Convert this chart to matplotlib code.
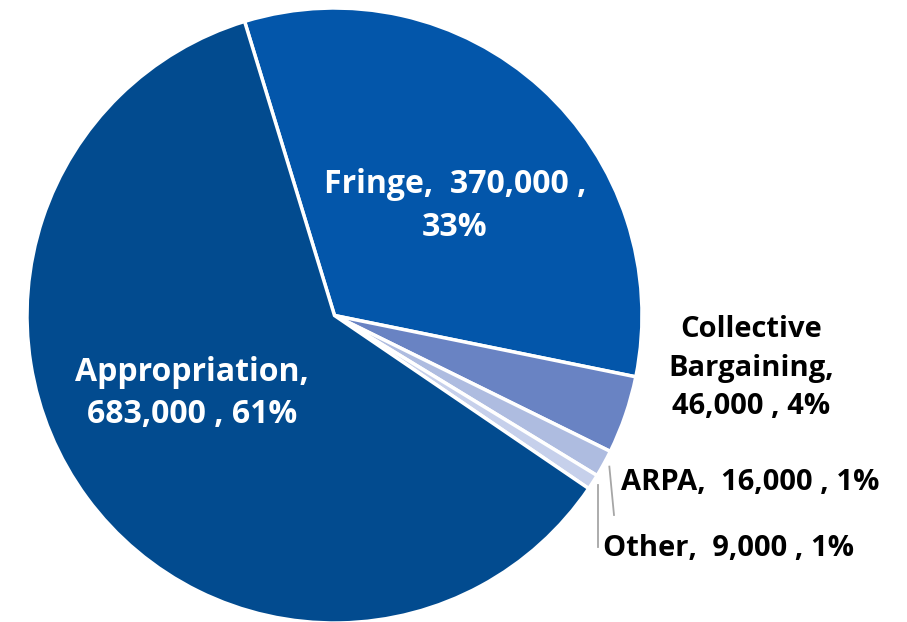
import numpy as np
import matplotlib
matplotlib.use("Agg")
import matplotlib.pyplot as plt

plt.rcParams['font.family'] = ['Open Sans', 'DejaVu Sans']

categories = ['Fringe', 'Collective\nBargaining', 'ARPA', 'Other', 'Appropriation']
values = [370000, 46000, 16000, 9000, 683000]
percents = ['33%', '4%', '1%', '1%', '61%']
colors = ['#0356AA', '#6983C3', '#AEBCE0', '#C6D0EB', '#024B8F']

W, H = 907, 622
R = 307.5          # pie radius in pixels
cx, cy = 334.5, 315.5


def px(x, y):
    # pixel position (from top-left) -> data coords with unit radius
    return (x - cx) / R, (cy - y) / R


fig = plt.figure(figsize=(W / 100, H / 100), dpi=100)
ax = fig.add_axes([0, 0, 1, 1])

wedges, _ = ax.pie(values, colors=colors, startangle=107, counterclock=False,
                   radius=1, wedgeprops=dict(edgecolor='white', linewidth=2.5))

ax.set_xlim(-cx / R, (W - cx) / R)
ax.set_ylim(-(H - cy) / R, cy / R)
ax.axis('off')


def label(i):
    v = f"{values[i]:,}"
    return v, percents[i]


fs_in, fs_out = 23, 21
v, p = label(0)
ax.text(*px(455, 206), f"Fringe,  {v} ,\n{p}", color='white', fontsize=fs_in,
        fontweight='bold', ha='center', va='center', linespacing=1.38)
v, p = label(4)
ax.text(*px(192, 393), f"Appropriation,\n{v} , {p}", color='white', fontsize=fs_in,
        fontweight='bold', ha='center', va='center', linespacing=1.36)
v, p = label(1)
ax.text(*px(751, 368), f"Collective\nBargaining,\n{v} , {p}", color='black',
        fontsize=fs_out, fontweight='bold', ha='center', va='center', linespacing=1.42)
v, p = label(2)
ax.text(*px(621, 483), f"ARPA,  {v} , {p}", color='black', fontsize=fs_out,
        fontweight='bold', ha='left', va='center')
v, p = label(3)
ax.text(*px(603, 548), f"Other,  {v} , {p}", color='black', fontsize=fs_out,
        fontweight='bold', ha='left', va='center')

# leader lines for the two thin slices
for w, end in ((wedges[2], (614, 515)), (wedges[3], (596, 547))):
    mid = np.deg2rad((w.theta1 + w.theta2) / 2)
    sx, sy = 1.02 * np.cos(mid), 1.02 * np.sin(mid)
    ex, ey = px(*end)
    if w is wedges[3]:
        ex = sx
    ax.plot([sx, ex], [sy, ey], color='#A6A6A6', linewidth=1.3)

fig.savefig('out.png', dpi=100)
